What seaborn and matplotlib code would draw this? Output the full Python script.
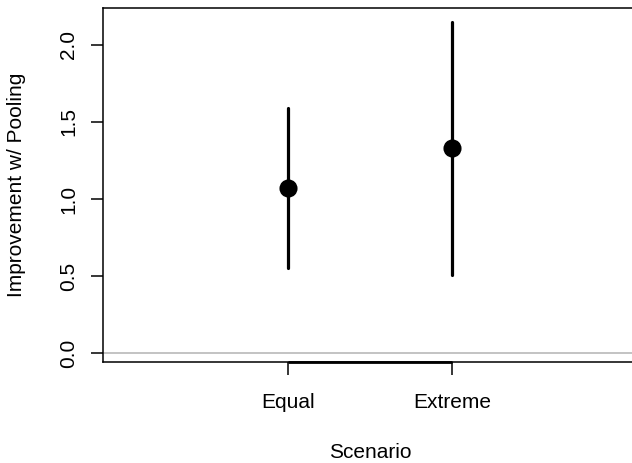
import matplotlib
matplotlib.use("Agg")
import matplotlib.pyplot as plt
import pandas as pd
import seaborn as sns

sns.set_style("ticks")
plt.rcParams["font.family"] = ["Liberation Sans", "DejaVu Sans"]
for key in ["text.color", "axes.labelcolor", "xtick.color", "ytick.color"]:
    plt.rcParams[key] = "black"

# values
scenarios = ["Equal", "Extreme"]
lower = [0.55, 0.51]
estimate = [1.07, 1.33]
upper = [1.59, 2.15]
y_ticks = [0.0, 0.5, 1.0, 1.5, 2.0]

rows = []
for s, lo, mid, hi in zip(scenarios, lower, estimate, upper):
    for v in (lo, mid, hi):
        rows.append({"Scenario": s, "Improvement": v})
df = pd.DataFrame(rows)

fig = plt.figure(figsize=(6.32, 4.63), dpi=100)
ax = fig.add_axes([103 / 632, 1 - 362 / 463, 534 / 632, 354 / 463])

ax.axhline(0, color="#bebebe", lw=1.3, zorder=0)
sns.pointplot(
    data=df,
    x="Scenario",
    y="Improvement",
    estimator="median",
    errorbar=("pi", 100),
    linestyle="none",
    color="black",
    markersize=11,
    err_kws={"linewidth": 2.3},
    ax=ax,
)

ax.set_xlim(-1.128, 2.128)
ax.set_ylim(-0.058, 2.24)
ax.set_yticks(y_ticks)
ax.set_yticklabels([f"{t:.1f}" for t in y_ticks], rotation=90, va="center")
ax.tick_params(axis="both", length=9, width=1.1, color="black", labelsize=15)
ax.tick_params(axis="y", pad=9)
ax.tick_params(axis="x", pad=13)

for side in ["left", "top", "bottom"]:
    ax.spines[side].set_linewidth(1.1)
    ax.spines[side].set_color("black")
ax.spines["right"].set_visible(False)
# R draws the axis line between first and last tick over the box
ax.plot([0, 1], [-0.058, -0.058], color="black", lw=2.0, clip_on=False,
        solid_capstyle="butt")

ax.set_xlabel("Scenario", fontsize=15, labelpad=23)
ax.set_ylabel("Improvement w/ Pooling", fontsize=15, labelpad=24)

fig.savefig("out.png", dpi=100)
